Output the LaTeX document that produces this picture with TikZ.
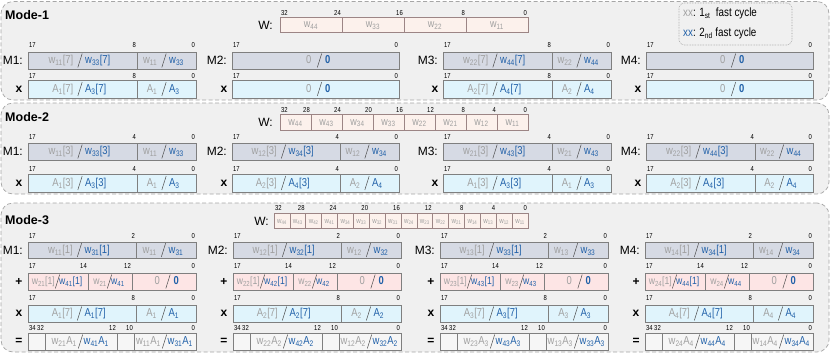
\documentclass[tikz,border=0pt]{standalone}
\usepackage{fontspec}
\setmainfont{Liberation Sans}
\newfontfamily\nar[FakeStretch=0.82]{Liberation Sans}
\definecolor{pbg}{HTML}{F0F0F0}
\definecolor{pbd}{HTML}{A6A6A6}
\definecolor{mfill}{HTML}{D6DAE4}
\definecolor{xfill}{HTML}{E0F4FC}
\definecolor{pfill}{HTML}{FDE5E5}
\definecolor{wfill}{HTML}{FCF1EC}
\definecolor{wbd}{HTML}{9C8585}
\definecolor{cbd}{HTML}{7F7F7F}
\definecolor{tgray}{HTML}{A0A0A0}
\definecolor{tblue}{HTML}{2060A8}
\definecolor{efill}{HTML}{F6F6F6}
\newcommand\ssb[1]{\textsubscript{#1}}
\newcommand\gapg{6.5pt}
\newcommand\gapb{5pt}
\newcommand\slx{-2.5pt}
\newcommand\cfsz{11.5}
\tikzset{
 panel/.style={draw=pbd,dash pattern=on 4pt off 2.5pt,fill=pbg,rounded corners=12pt,line width=0.7pt,inner sep=0},
 legbox/.style={draw=gray!80,densely dotted,fill=pbg,rounded corners=5pt,line width=0.6pt,inner sep=0},
 legtxt/.style={inner sep=0,font=\nar\fontsize{12}{14}\selectfont},
 cellbox/.style={draw=cbd,line width=0.7pt,inner sep=0,outer sep=0},
 fillM/.style={fill=mfill},
 fillX/.style={fill=xfill},
 fillP/.style={fill=pfill},
 fillE/.style={fill=efill},
 wcell/.style={cellbox,fill=wfill,draw=wbd},
 gtxt/.style={inner sep=0,text=tgray,font=\nar\fontsize{\cfsz}{12}\selectfont},
 btxt/.style={inner sep=0,text=tblue,font=\nar\fontsize{\cfsz}{12}\selectfont},
 wtxt/.style={inner sep=0,text=tgray,font=\nar\fontsize{11}{12}\selectfont,anchor=base},
 wtxts/.style={inner sep=0,text=tgray,font=\nar\fontsize{7.5}{8}\selectfont,anchor=base},
 bitlbl/.style={inner sep=0,font=\nar\fontsize{7.2}{8}\selectfont},
 slashln/.style={draw=black!70,line width=0.5pt},
 mlbl/.style={inner sep=0,font=\fontsize{12}{14}\selectfont,anchor=east},
 sgn/.style={inner sep=0,font=\bfseries\fontsize{12}{14}\selectfont},
 title/.style={inner sep=0,font=\bfseries\fontsize{12.5}{14}\selectfont,anchor=west},
}
\newcommand\regcell[8]{%
 \node[cellbox,#6,minimum width={(#3-#2)*1pt},minimum height={(#5-#4)*1pt}] (#1) at ({(#2+#3)/2},{(#4+#5)/2}) {};
 \coordinate (#1s) at ([xshift=\slx]#1.center);
 \node[gtxt,anchor=base east] (#1g) at ([xshift=-\gapg,yshift=-3.4pt]#1s) {#7};
 \node[btxt,anchor=base west] (#1b) at ([xshift=\gapb,yshift=-3.4pt]#1s) {#8};
 \draw[slashln] ([xshift=-2.2pt,yshift=-7pt]#1s) -- ([xshift=2.2pt,yshift=7pt]#1s);
}
\newcommand\zcell[6]{%
 {\renewcommand\slx{4pt}\renewcommand\gapg{8pt}\renewcommand\gapb{5.5pt}%
 \regcell{#1}{#2}{#3}{#4}{#5}{#6}{0}{\textbf{0}}}%
}
\newcommand\ecell[6]{%
 \node[cellbox,#6,minimum width={(#3-#2)*1pt},minimum height={(#5-#4)*1pt}] (#1) at ({(#2+#3)/2},{(#4+#5)/2}) {};
}
\newcommand\bitrow[4]{%
 \foreach \xx/\ll in {#3} {\node[bitlbl,anchor=base west] (#1-0) at (\xx+1,#2) {\ll};}
 \foreach \xx/\ll [count=\i] in {#4} {\node[bitlbl,anchor=base east] (#1-\i) at (\xx-1,#2) {\ll};}
}
\begin{document}
\begin{tikzpicture}[x=1pt,y=-1pt]
\useasboundingbox (0,0) rectangle (831,354);
% panels
\node[panel,minimum width=828pt,minimum height=98.5pt] (p1) at (415,50.75) {};
\node[panel,minimum width=828pt,minimum height=91pt] (p2) at (415,148.5) {};
\node[panel,minimum width=828pt,minimum height=149pt] (p3) at (415,277.5) {};
\node[title] (t1) at (5,15) {Mode-1};
\node[title] (t2) at (5,117) {Mode-2};
\node[title] (t3) at (5,220) {Mode-3};
% legend
\node[legbox,minimum width=113pt,minimum height=42pt] (leg) at (735.5,24) {};
\node[legtxt,anchor=west] (leg1) at (683,13.5) {{\color{tgray}xx}: 1\ssb{st}\ \ fast cycle};
\node[legtxt,anchor=west] (leg2) at (683,33.5) {{\color{tblue}xx}: 2\ssb{nd} fast cycle};
% ================= Mode-1
\node[mlbl] (w1l) at (273,25) {W:};
\foreach \n [count=\i from 0] in {44,33,22,11} {
 \node[wcell,minimum width=62pt,minimum height=15pt] (w1c\i) at ({280+62*(\i+0.5)},24.5) {};
 \node[wtxt] (w1t\i) at ([yshift=-3pt]w1c\i.center) {w\ssb{\n}};
}
\node[bitlbl,anchor=base west] (w1b0) at (281,15.5) {32};
\foreach \b [count=\i] in {24,16,8,0} {\node[bitlbl,anchor=base east] (w1b\i) at ({280+62*\i-1},15.5) {\b};}
% M row
\node[mlbl] (lm1a) at (23,60.5) {M1:};
\node[mlbl] (lm1b) at (227,60.5) {M2:};
\node[mlbl] (lm1c) at (438,60.5) {M3:};
\node[mlbl] (lm1d) at (641,60.5) {M4:};
\regcell{a11}{28}{137}{52}{69}{fillM}{w\ssb{11}[7]}{w\ssb{33}[7]}
\regcell{a12}{137}{196}{52}{69}{fillM}{w\ssb{11}}{w\ssb{33}}
\bitrow{a1}{47.5}{28/17}{137/8,196/0}
\zcell{a2}{232}{399}{52}{69}{fillM}
\bitrow{a2}{47.5}{232/17}{399/0}
\regcell{a31}{443}{552}{52}{69}{fillM}{w\ssb{22}[7]}{w\ssb{44}[7]}
\regcell{a32}{552}{611}{52}{69}{fillM}{w\ssb{22}}{w\ssb{44}}
\bitrow{a3}{47.5}{443/17}{552/8,611/0}
\zcell{a4}{646}{813}{52}{69}{fillM}
\bitrow{a4}{47.5}{646/17}{813/0}
% x row
\node[sgn] (sx1a) at (19,89) {x};
\node[sgn] (sx1b) at (224,89) {x};
\node[sgn] (sx1c) at (435,89) {x};
\node[sgn] (sx1d) at (638,89) {x};
\regcell{b11}{28}{137}{80}{98}{fillX}{A\ssb{1}[7]}{A\ssb{3}[7]}
\regcell{b12}{137}{196}{80}{98}{fillX}{A\ssb{1}}{A\ssb{3}}
\bitrow{b1}{78}{28/17}{137/8,196/0}
\zcell{b2}{232}{399}{80}{98}{fillX}
\bitrow{b2}{78}{232/17}{399/0}
\regcell{b31}{443}{552}{80}{98}{fillX}{A\ssb{2}[7]}{A\ssb{4}[7]}
\regcell{b32}{552}{611}{80}{98}{fillX}{A\ssb{2}}{A\ssb{4}}
\bitrow{b3}{78}{443/17}{552/8,611/0}
\zcell{b4}{646}{813}{80}{98}{fillX}
\bitrow{b4}{78}{646/17}{813/0}
% ================= Mode-2
\node[mlbl] (w2l) at (273,122) {W:};
\foreach \n [count=\i from 0] in {44,43,34,33,22,21,12,11} {
 \node[wcell,minimum width=31pt,minimum height=16pt] (w2c\i) at ({280+31*(\i+0.5)},122) {};
 \node[wtxt] (w2t\i) at ([yshift=-3pt]w2c\i.center) {w\ssb{\n}};
}
\node[bitlbl,anchor=base west] (w2b0) at (281,112) {32};
\foreach \b [count=\i] in {28,24,20,16,12,8,4,0} {\node[bitlbl,anchor=base east] (w2b\i) at ({280+31*\i-1},112) {\b};}
\node[mlbl] (lm2a) at (23,151.5) {M1:};
\node[mlbl] (lm2b) at (227,151.5) {M2:};
\node[mlbl] (lm2c) at (438,151.5) {M3:};
\node[mlbl] (lm2d) at (641,151.5) {M4:};
\regcell{c11}{28}{137}{143}{160}{fillM}{w\ssb{11}[3]}{w\ssb{33}[3]}
\regcell{c12}{137}{196}{143}{160}{fillM}{w\ssb{11}}{w\ssb{33}}
\bitrow{c1}{139.5}{28/17}{137/4,196/0}
\regcell{c21}{232}{340}{143}{160}{fillM}{w\ssb{12}[3]}{w\ssb{34}[3]}
\regcell{c22}{340}{399}{143}{160}{fillM}{w\ssb{12}}{w\ssb{34}}
\bitrow{c2}{139.5}{232/17}{340/4,399/0}
\regcell{c31}{443}{552}{143}{160}{fillM}{w\ssb{21}[3]}{w\ssb{43}[3]}
\regcell{c32}{552}{611}{143}{160}{fillM}{w\ssb{21}}{w\ssb{43}}
\bitrow{c3}{139.5}{443/17}{552/4,611/0}
\regcell{c41}{646}{755}{143}{160}{fillM}{w\ssb{22}[3]}{w\ssb{44}[3]}
\regcell{c42}{755}{813}{143}{160}{fillM}{w\ssb{22}}{w\ssb{44}}
\bitrow{c4}{139.5}{646/17}{755/4,813/0}
\node[sgn] (sx2a) at (19,183) {x};
\node[sgn] (sx2b) at (224,183) {x};
\node[sgn] (sx2c) at (435,183) {x};
\node[sgn] (sx2d) at (638,183) {x};
\regcell{d11}{28}{137}{174}{192}{fillX}{A\ssb{1}[3]}{A\ssb{3}[3]}
\regcell{d12}{137}{196}{174}{192}{fillX}{A\ssb{1}}{A\ssb{3}}
\bitrow{d1}{171.5}{28/17}{137/4,196/0}
\regcell{d21}{232}{340}{174}{192}{fillX}{A\ssb{2}[3]}{A\ssb{4}[3]}
\regcell{d22}{340}{399}{174}{192}{fillX}{A\ssb{2}}{A\ssb{4}}
\bitrow{d2}{171.5}{232/17}{340/4,399/0}
\regcell{d31}{443}{552}{174}{192}{fillX}{A\ssb{1}[3]}{A\ssb{3}[3]}
\regcell{d32}{552}{611}{174}{192}{fillX}{A\ssb{1}}{A\ssb{3}}
\bitrow{d3}{171.5}{443/17}{552/4,611/0}
\regcell{d41}{646}{755}{174}{192}{fillX}{A\ssb{2}[3]}{A\ssb{4}[3]}
\regcell{d42}{755}{813}{174}{192}{fillX}{A\ssb{2}}{A\ssb{4}}
\bitrow{d4}{171.5}{646/17}{755/4,813/0}
% ================= Mode-3
\node[mlbl] (w3l) at (269,221) {W:};
\foreach \n [count=\i from 0] in {44,43,42,41,34,33,32,31,24,23,22,21,14,13,12,11} {
 \node[wcell,minimum width=15.875pt,minimum height=15pt] (w3c\i) at ({274+15.875*(\i+0.5)},220.5) {};
 \node[wtxts] (w3t\i) at ([yshift=-2.5pt]w3c\i.center) {w\ssb{\n}};
}
\node[bitlbl,anchor=base west] (w3b0) at (275,210.5) {32};
\foreach \b [count=\i] in {28,24,20,16,12,8,4,0} {\node[bitlbl,anchor=base east] (w3b\i) at ({274+31.75*\i-1},210.5) {\b};}
\node[mlbl] (lm3a) at (23,250) {M1:};
\node[mlbl] (lm3b) at (228,250) {M2:};
\node[mlbl] (lm3c) at (435,250) {M3:};
\node[mlbl] (lm3d) at (640,250) {M4:};
\foreach \L/\j [count=\k] in {28/1,233/2,440/3,645/4} {
 \pgfmathsetmacro\D{\L+108}\pgfmathsetmacro\R{\L+168}
 \regcell{e\k1}{\L}{\D}{242}{258}{fillM}{w\ssb{1\j}[1]}{w\ssb{3\j}[1]}
 \regcell{e\k2}{\D}{\R}{242}{258}{fillM}{w\ssb{1\j}}{w\ssb{3\j}}
 \bitrow{e\k}{238.5}{\L/17}{\D/2,\R/0}
}
\renewcommand\gapg{2.5pt}
\renewcommand\gapb{1.5pt}
\renewcommand\slx{-0.5pt}
\renewcommand\cfsz{10.5}
\foreach \L/\j [count=\k] in {28/1,233/2,440/3,645/4} {
 \pgfmathsetmacro\R{\L+168}
 \pgfmathsetmacro\Pa{\L+60}\pgfmathsetmacro\Pb{\L+104}
 \node[sgn] (sp\k) at (\L-9,281.5) {+};
 \regcell{f\k1}{\L}{\Pa}{273}{290}{fillP}{w\ssb{2\j}[1]}{w\ssb{4\j}[1]}
 \regcell{f\k2}{\Pa}{\Pb}{273}{290}{fillP}{w\ssb{2\j}}{w\ssb{4\j}}
 \bitrow{f\k}{268}{\L/17}{\Pa/14,\Pb/12,\R/0}
}
\renewcommand\cfsz{11.5}
\renewcommand\gapg{6.5pt}
\renewcommand\gapb{5pt}
\renewcommand\slx{-2.5pt}
\foreach \L/\j [count=\k] in {28/1,233/2,440/3,645/4} {
 \pgfmathsetmacro\D{\L+108}\pgfmathsetmacro\R{\L+168}
 \pgfmathsetmacro\Pb{\L+104}
 \pgfmathsetmacro\Ea{\L+17}\pgfmathsetmacro\Eb{\L+89}\pgfmathsetmacro\Ec{\L+106}
 \zcell{f\k3}{\Pb}{\R}{273}{290}{fillP}
 \node[sgn] (sx3\k) at (\L-9,313.5) {x};
 \regcell{g\k1}{\L}{\D}{305}{322}{fillX}{A\ssb{\j}[7]}{A\ssb{\j}[7]}
 \regcell{g\k2}{\D}{\R}{305}{322}{fillX}{A\ssb{\j}}{A\ssb{\j}}
 \bitrow{g\k}{300.5}{\L/17}{\D/8,\R/0}
 \node[sgn] (se\k) at (\L-9,341.5) {=};
 \ecell{h\k1}{\L}{\Ea}{333}{350}{fillE}
 \ecell{h\k3}{\Eb}{\Ec}{333}{350}{fillE}
 \renewcommand\gapg{3.5pt}\renewcommand\gapb{3pt}\renewcommand\slx{-0.5pt}
 \regcell{h\k2}{\Ea}{\Eb}{333}{350}{fillE}{w\ssb{2\j}A\ssb{\j}}{w\ssb{4\j}A\ssb{\j}}
 \regcell{h\k4}{\Ec}{\R}{333}{350}{fillE}{w\ssb{1\j}A\ssb{\j}}{w\ssb{3\j}A\ssb{\j}}
 \bitrow{h\k}{330}{\L/34}{\Ea/32,\Eb/12,\Ec/10,\R/0}
}
\end{tikzpicture}
\end{document}
